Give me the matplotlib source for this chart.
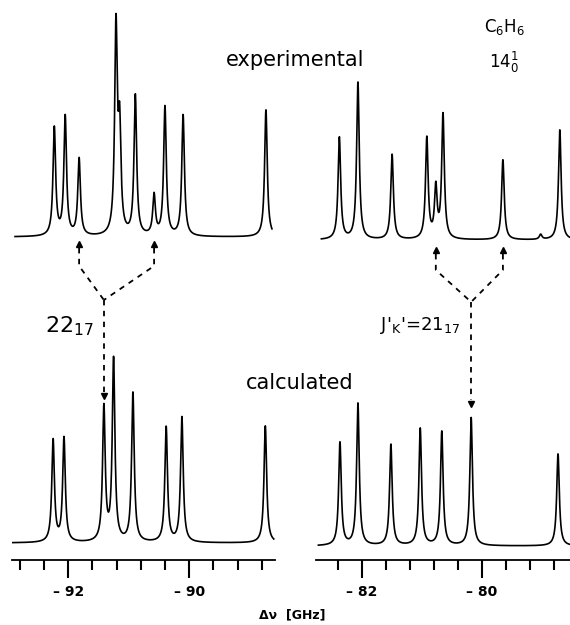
import numpy as np
import matplotlib
matplotlib.use('Agg')
import matplotlib.pyplot as plt
from matplotlib.ticker import FixedLocator, FuncFormatter
from matplotlib.transforms import blended_transform_factory

plt.rcParams['font.family'] = ['DejaVu Sans']
plt.rcParams['mathtext.default'] = 'regular'

# peak centres (GHz) and heights (arb. units)
exp_left_pos = [-92.23, -92.05, -91.82, -91.21, -91.15, -90.89, -90.58, -90.40, -90.10, -88.73]
exp_left_h = [108, 119, 77, 206, 100, 140, 40, 129, 121, 127]
exp_right_pos = [-82.38, -82.07, -81.50, -80.92, -80.77, -80.65, -79.65, -79.02, -78.70]
exp_right_h = [102, 157, 85, 101, 50, 124, 80, 5, 110]

calc_left_pos = [-92.25, -92.07, -91.41, -91.25, -90.93, -90.38, -90.12, -88.74]
calc_left_h = [102, 104, 134, 182, 149, 115, 125, 117]
calc_right_pos = [-82.37, -82.07, -81.52, -81.03, -80.67, -80.18, -78.73]
calc_right_h = [103, 142, 101, 117, 114, 128, 92]

# perturbed line: two experimental components -> one calculated line
split_left = [-91.82, -90.58]
split_right = [-80.77, -79.65]
calc_line_left = -91.41
calc_line_right = -80.18

xlim_left = (-92.93, -88.58)
xlim_right = (-82.77, -78.53)
major_left = [-92, -90]
major_right = [-82, -80]
minor_left = [-92.8 + 0.4 * i for i in range(11)]
minor_right = [-82.4 + 0.4 * i for i in range(10)]

gamma = 0.026


def spectrum(x, pos, h):
    y = np.zeros_like(x)
    for c, a in zip(pos, h):
        y += a / (1 + ((x - c) / gamma) ** 2)
    return y


fig = plt.figure(figsize=(5.7, 6.25), dpi=100)

ax_tl = fig.add_axes([12 / 570, 0.6, 263 / 570, 0.4])
ax_tr = fig.add_axes([316 / 570, 0.6, 254 / 570, 0.4])
ax_bl = fig.add_axes([12 / 570, 0.104, 263 / 570, 0.352])
ax_br = fig.add_axes([316 / 570, 0.104, 254 / 570, 0.352])

# experimental traces
x = np.linspace(-92.88, -88.63, 4000)
ax_tl.plot(x, spectrum(x, exp_left_pos, exp_left_h), color='black', lw=1.2)
ax_tl.set_xlim(xlim_left)
ax_tl.set_ylim(-13, 237)
x = np.linspace(-82.68, -78.53, 4000)
ax_tr.plot(x, spectrum(x, exp_right_pos, exp_right_h), color='black', lw=1.2)
ax_tr.set_xlim(xlim_right)
ax_tr.set_ylim(-10, 240)
for ax in (ax_tl, ax_tr):
    ax.axis('off')

# calculated traces
x = np.linspace(-92.93, -88.6, 4000)
ax_bl.plot(x, spectrum(x, calc_left_pos, calc_left_h), color='black', lw=1.2)
ax_bl.set_xlim(xlim_left)
ax_bl.set_ylim(-17, 203)
x = np.linspace(-82.73, -78.53, 4000)
ax_br.plot(x, spectrum(x, calc_right_pos, calc_right_h), color='black', lw=1.2)
ax_br.set_xlim(xlim_right)
ax_br.set_ylim(-14, 206)

fmt = FuncFormatter(lambda v, p: '\u2013 %d' % abs(v))
for ax, mj, mn in ((ax_bl, major_left, minor_left), (ax_br, major_right, minor_right)):
    ax.patch.set_visible(False)
    for s in ('top', 'left', 'right'):
        ax.spines[s].set_visible(False)
    ax.spines['bottom'].set_linewidth(1.3)
    ax.set_yticks([])
    ax.xaxis.set_major_locator(FixedLocator(mj))
    ax.xaxis.set_minor_locator(FixedLocator(mn))
    ax.xaxis.set_major_formatter(fmt)
    ax.tick_params(axis='x', which='major', direction='out', length=13, width=1.5,
                   labelsize=10, pad=5)
    ax.tick_params(axis='x', which='minor', direction='out', length=7.5, width=1.5)
    for lab in ax.get_xticklabels():
        lab.set_fontweight('bold')


def fy(py):
    return 1 - py / 625


def connector(ax, xs, xc, tip, bend, join, end):
    tr = blended_transform_factory(ax.transData, fig.transFigure)
    kw = dict(color='black', lw=1.3, ls=(0, (3, 3)), transform=tr, clip_on=False, zorder=5)
    for xe in xs:
        ax.plot([xe, xe, xc], [fy(tip + 4), fy(bend), fy(join)], **kw)
        ax.plot([xe], [fy(tip)], marker='^', ms=4, color='black', transform=tr,
                clip_on=False, zorder=5)
    ax.plot([xc, xc], [fy(join), fy(end - 4)], **kw)
    ax.plot([xc], [fy(end)], marker='v', ms=4, color='black', transform=tr,
            clip_on=False, zorder=5)


connector(ax_tl, split_left, calc_line_left, 244, 266, 300, 396)
connector(ax_tr, split_right, calc_line_right, 250, 270, 302, 404)

fig.text(295, 625 - 60, 'experimental', fontsize=15, ha='center', va='center',
         transform=None)
fig.text(300, 625 - 383, 'calculated', fontsize=15, ha='center', va='center',
         transform=None)
fig.text(504, 625 - 27, r'C$_6$H$_6$', fontsize=12, ha='center', va='center',
         transform=None)
fig.text(504, 625 - 62, r'$14^{1}_{0}$', fontsize=12, ha='center', va='center',
         transform=None)
fig.text(69, 625 - 326, r'$22_{17}$', fontsize=16, ha='center', va='center',
         transform=None)
fig.text(420, 625 - 326, r"J'$_{K}$'=21$_{17}$", fontsize=13, ha='center', va='center',
         transform=None)
fig.text(292, 625 - 615, '\u0394\u03bd  [GHz]', fontsize=9, fontweight='bold',
         ha='center', va='center', transform=None)

fig.savefig('out.png', dpi=100)
